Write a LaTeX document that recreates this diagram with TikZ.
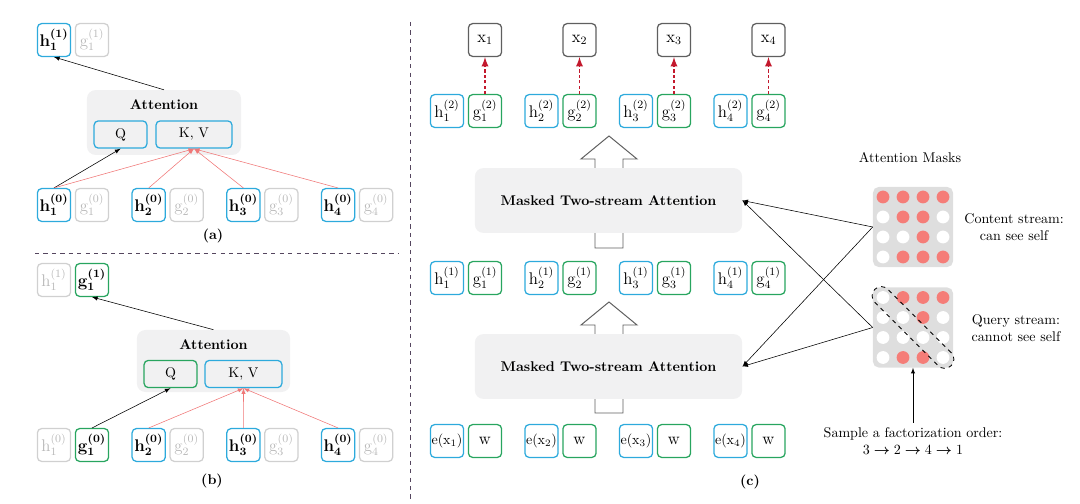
\documentclass[tikz,border=0pt]{standalone}
\usepackage{amsmath}
\usetikzlibrary{positioning}
\definecolor{boxblue}{RGB}{45,170,220}
\definecolor{boxgreen}{RGB}{40,165,95}
\definecolor{offgray}{RGB}{208,208,208}
\definecolor{offtext}{RGB}{185,185,185}
\definecolor{attnred}{RGB}{240,120,120}
\definecolor{predred}{RGB}{195,25,45}
\definecolor{dotred}{RGB}{245,125,120}
\definecolor{maskgray}{RGB}{222,222,222}
\definecolor{attnfill}{RGB}{241,241,242}
\definecolor{sepline}{RGB}{85,70,95}
\definecolor{xgray}{RGB}{95,95,95}
\newcommand{\cellsym}[3]{$\mathrm{#1}_{#2}^{(#3)}$}
\tikzset{
  cell/.style={rounded corners=3pt, line width=0.9pt, minimum width=0.83cm,
    minimum height=0.82cm, inner sep=0pt, font=\large},
  hcell/.style={cell, draw=boxblue},
  gcell/.style={cell, draw=boxgreen},
  offcell/.style={cell, draw=offgray, text=offtext},
  xcell/.style={cell, draw=xgray},
  act/.style={font=\large\boldmath},
  qkv/.style={font=\normalsize, minimum height=0.68cm},
  attnbox/.style={fill=attnfill, rounded corners=6pt},
  maskbox/.style={fill=maskgray, rounded corners=4pt, minimum size=2cm, inner sep=0pt},
  blockarrow/.style={draw=xgray, line width=0.7pt, fill=white}
}
\begin{document}
\begin{tikzpicture}[>=latex, x=0.025cm, y=-0.025cm]
  \useasboundingbox (0,0) rectangle (1080,504);
  % (a) content stream
  \node[hcell, act] (a-h1) at (54,40) {\cellsym{h}{1}{1}};
  \node[offcell] (a-g1) at (92,40) {\cellsym{g}{1}{1}};
  \node[attnbox, minimum width=3.85cm, minimum height=1.62cm] (a-attn) at (164,122.5) {};
  \node[font=\bfseries] (a-title) at (164,105) {Attention};
  \node[hcell, qkv, minimum width=1.32cm] (a-q) at (120.5,134.5) {Q};
  \node[hcell, qkv, minimum width=1.9cm] (a-kv) at (194,134.5) {K, V};
  \foreach \i [evaluate=\i as \xh using 54+94.7*(\i-1)] in {1,...,4} {
    \node[hcell, act] (a-h0\i) at (\xh,205) {\cellsym{h}{\i}{0}};
    \node[offcell] (a-g0\i) at (\xh+38,205) {\cellsym{g}{\i}{0}};
  }
  \draw[->] (a-attn.north) -- (a-h1.south);
  \draw[->] (a-h01.north) -- (a-q.south);
  \foreach \i in {1,...,4}
    \draw[->, attnred] (a-h0\i.north) -- (a-kv.south);
  \node[font=\bfseries] (a-label) at (213,236) {(a)};
  % separators
  \draw[dashed, sepline] (35,253) -- (398,253);
  \draw[dashed, sepline] (410,22) -- (410,500);
  % (b) query stream
  \node[offcell] (b-h1) at (54,280) {\cellsym{h}{1}{1}};
  \node[gcell, act] (b-g1) at (92,280) {\cellsym{g}{1}{1}};
  \node[attnbox, minimum width=3.83cm, minimum height=1.55cm] (b-attn) at (213.5,361) {};
  \node[font=\bfseries] (b-title) at (213.5,345) {Attention};
  \node[gcell, qkv, minimum width=1.32cm] (b-q) at (170.5,374) {Q};
  \node[hcell, qkv, minimum width=1.92cm] (b-kv) at (243.5,374) {K, V};
  \node[offcell] (b-h01) at (54,445) {\cellsym{h}{1}{0}};
  \node[gcell, act] (b-g01) at (92,445) {\cellsym{g}{1}{0}};
  \foreach \i [evaluate=\i as \xh using 54+94.7*(\i-1)] in {2,...,4} {
    \node[hcell, act] (b-h0\i) at (\xh,445) {\cellsym{h}{\i}{0}};
    \node[offcell] (b-g0\i) at (\xh+38,445) {\cellsym{g}{\i}{0}};
    \draw[->, attnred] (b-h0\i.north) -- (b-kv.south);
  }
  \draw[->] (b-attn.north) -- (b-g1.south);
  \draw[->] (b-g01.north) -- (b-q.south);
  \node[font=\bfseries] (b-label) at (212,481) {(b)};
  % (c) two-stream model
  \draw[blockarrow] (595,248) -- (595,159) -- (581,159) -- (609,136) -- (637,159)
    -- (623,159) -- (623,248) -- cycle;
  \draw[blockarrow] (595,413) -- (595,325) -- (581,325) -- (609,302) -- (637,325)
    -- (623,325) -- (623,413) -- cycle;
  \node[attnbox, minimum width=6.68cm, minimum height=1.62cm, font=\bfseries] (mtsa1)
    at (608.5,200.5) {Masked Two-stream Attention};
  \node[attnbox, minimum width=6.68cm, minimum height=1.62cm, font=\bfseries] (mtsa2)
    at (608.5,366.5) {Masked Two-stream Attention};
  \foreach \i [evaluate=\i as \xh using 447+94.5*(\i-1)] in {1,...,4} {
    \node[xcell] (c-x\i) at (\xh+38,40) {$\mathrm{x}_{\i}$};
    \node[hcell] (c-h2\i) at (\xh,111) {\cellsym{h}{\i}{2}};
    \node[gcell] (c-g2\i) at (\xh+38,111) {\cellsym{g}{\i}{2}};
    \node[hcell] (c-h1\i) at (\xh,278) {\cellsym{h}{\i}{1}};
    \node[gcell] (c-g1\i) at (\xh+38,278) {\cellsym{g}{\i}{1}};
    \node[hcell, font=\normalsize] (c-e\i) at (\xh,441) {$\mathrm{e}(\mathrm{x}_{\i})$};
    \node[gcell] (c-w\i) at (\xh+38,441) {$\mathrm{w}$};
    \draw[->, predred, line width=1.3pt, dash pattern=on 2.2pt off 1.6pt] (c-g2\i.north) -- (c-x\i.south);
  }
  \node[font=\bfseries] (c-label) at (750,482) {(c)};
  % attention masks
  \node (mask-title) at (910,158) {Attention Masks};
  \node[maskbox] (mask-c) at (913,227) {};
  \node[maskbox] (mask-q) at (913,327.5) {};
  \foreach \pat [count=\r] in {{dotred,dotred,dotred,dotred},{white,dotred,dotred,white},
      {white,white,dotred,white},{white,dotred,dotred,dotred}}
    \foreach \v [count=\j] in \pat
      \fill[\v] (863+20*\j,177+20*\r) circle (0.16cm);
  \foreach \pat [count=\r] in {{white,dotred,dotred,dotred},{white,white,dotred,white},
      {white,white,white,white},{white,dotred,dotred,white}}
    \foreach \v [count=\j] in \pat
      \fill[\v] (863+20*\j,277.5+20*\r) circle (0.16cm);
  \node[draw, dashed, rotate=-45, rounded corners=0.23cm, minimum width=2.7cm,
    minimum height=0.46cm, line width=0.6pt] (diag) at (913,327.5) {};
  \node[align=center] (c-text) at (1014,227) {Content stream:\\can see self};
  \node[align=center] (q-text) at (1016,328) {Query stream:\\cannot see self};
  \node[align=center] (order) at (913,441)
    {Sample a factorization order:\\$3 \boldsymbol{\rightarrow} 2 \boldsymbol{\rightarrow} 4 \boldsymbol{\rightarrow} 1$};
  \draw[->] (order.north) -- (mask-q.south);
  \draw[->] (mask-c.west) -- (mtsa1.east);
  \draw[->] (mask-c.west) -- (mtsa2.east);
  \draw[->] (mask-q.west) -- (mtsa1.east);
  \draw[->] (mask-q.west) -- (mtsa2.east);
\end{tikzpicture}
\end{document}
